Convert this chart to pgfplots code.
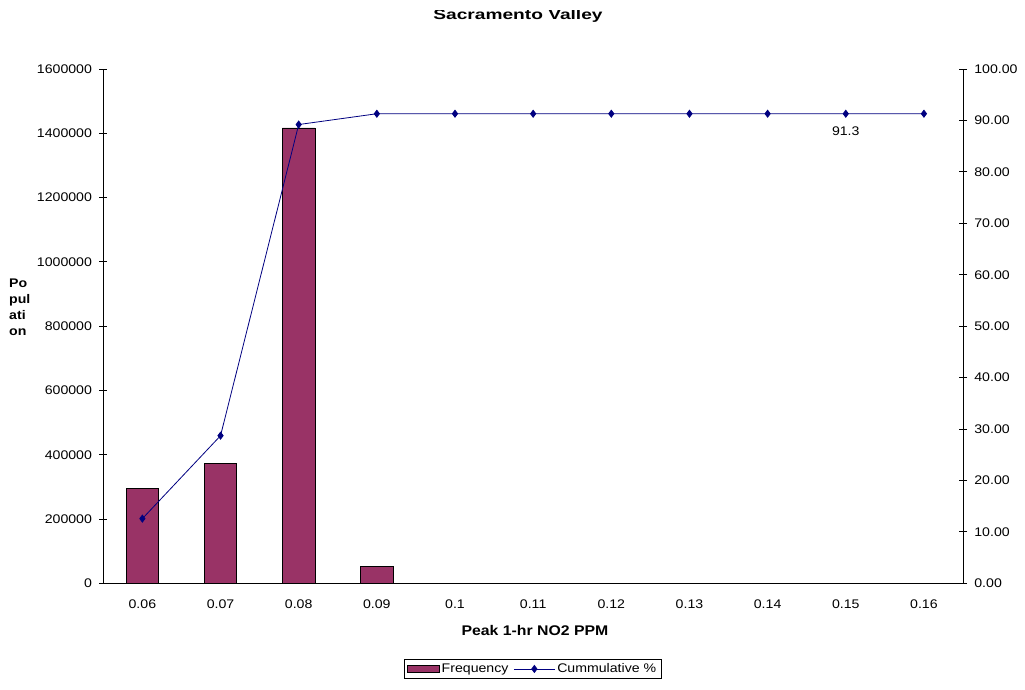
\documentclass[border=0pt]{standalone}
\usepackage{pgfplots}
\pgfplotsset{compat=1.18}
\usepackage{graphicx}
\usepackage{fontspec}
\setmainfont[FakeStretch=1.13]{Liberation Sans}
\definecolor{barcol}{HTML}{993366}
\definecolor{linecol}{HTML}{000080}
\pgfplotsset{
  barlegend/.style={legend image code/.code={\draw[##1] (0pt,-3.5pt) rectangle (32pt,3.5pt);}},
  linelegend/.style={legend image code/.code={\draw[##1] (0pt,0pt) -- (41pt,0pt); \draw[##1] plot coordinates {(20.5pt,0pt)};}},
}
\begin{document}
\fontsize{12.5}{15}\selectfont
\begin{tikzpicture}
\useasboundingbox (0pt,0pt) rectangle (1025pt,689pt);
\pgfplotsset{
  base/.style={
    at={(103.3pt,105.7pt)}, anchor=south west,
    width=859.7pt, height=514.3pt, scale only axis,
    xmin=-0.5, xmax=10.5,
    tick align=center,
    major tick length=8pt,
    tick style={black, line width=0.8pt},
    axis line style={black, line width=0.8pt},
    tick label style={font=\fontsize{12.5}{15}\selectfont},
    /pgf/number format/assume math mode=true,
  }
}
\begin{axis}[base,
  axis x line*=bottom, axis y line*=left,
  ymin=0, ymax=1600000,
  ytick={0,200000,...,1600000},
  scaled y ticks=false,
  yticklabel style={xshift=-3pt,/pgf/number format/fixed,/pgf/number format/1000 sep={}},
  xtick={0,...,10},
  xticklabels={0.06,0.07,0.08,0.09,0.1,0.11,0.12,0.13,0.14,0.15,0.16},
  xtick style={draw=none},
  minor xtick={-0.5,0.5,...,10.5},
  minor tick length=8pt,
  minor tick style={black, line width=0.8pt},
  xticklabel style={yshift=-4pt},
  ybar, bar width=32.7pt,
]
\addplot[fill=barcol, draw=black, line width=0.8pt] coordinates {
(0,294700) (1,373750) (2,1416600) (3,53100) (4,0) (5,0) (6,0) (7,0) (8,0) (9,0) (10,0)};
\end{axis}
\begin{axis}[base,
  axis x line=none, axis y line*=right,
  ymin=0, ymax=100,
  ytick={0,10,...,100},
  yticklabel style={xshift=3pt,/pgf/number format/fixed,/pgf/number format/fixed zerofill,/pgf/number format/precision=2},
  legend style={at={(0.4993,-0.1666)}, anchor=center, draw=black, line width=0.6pt,
    font=\fontsize{12.5}{15}\selectfont, inner xsep=3pt, inner ysep=2pt, row sep=0pt,
    nodes={inner xsep=2pt, inner ysep=2pt},
    /tikz/every even column/.append style={column sep=3pt}},
  legend columns=2,
]
\addlegendimage{barlegend, fill=barcol, draw=black, line width=0.8pt}
\addlegendentry{Frequency}
\addlegendimage{linelegend, linecol, line width=0.8pt, mark=diamond*, mark size=3.5pt}
\addlegendentry{Cummulative \%}
\addplot[linecol, line width=0.8pt, mark=diamond*, mark size=3.5pt, mark options={fill=linecol}] coordinates {
(0,12.57) (1,28.7) (2,89.2) (3,91.3) (4,91.3) (5,91.3) (6,91.3) (7,91.3) (8,91.3) (9,91.3) (10,91.3)};
\node[anchor=north, font=\fontsize{12.5}{15}\selectfont] at (axis cs:9,91.3) [yshift=-9pt] {91.3};
\end{axis}
\begin{scope}
\clip (0pt,0pt) rectangle (1025pt,678pt);
\node[anchor=base, inner sep=0pt, font=\bfseries\fontsize{14}{16}\selectfont] at (518pt,669pt) {\scalebox{1.21}[1]{Sacramento Valley}};
\end{scope}
\node[anchor=base, inner sep=0pt, font=\bfseries\fontsize{14}{16}\selectfont] at (535pt,54pt) {Peak 1-hr NO2 PPM};
\node[font=\bfseries\fontsize{12.5}{16}\selectfont, align=left, anchor=north west, inner sep=0pt] at (9pt,410pt) {Po\\pul\\ati\\on};
\end{tikzpicture}
\end{document}
